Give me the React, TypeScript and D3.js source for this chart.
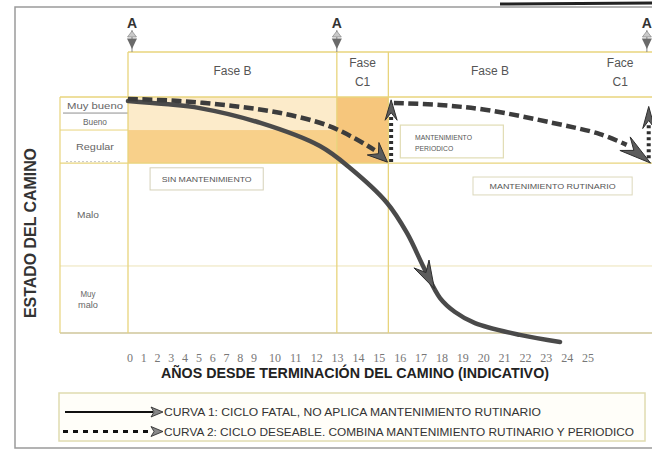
import React from 'react';
import * as d3 from 'd3';

// ---------- data ----------
const tickLabels = ['0','1','2','3','4','5','6','7','8','9','10','11','12','13','14','15','16','17','18','19','20','21','22','23','24','25'];
const tickYears = [0,1,2,3,4,5,6,7,8,9,10,11,12,13,14,15,16,17,18,19,20,21,22,23,24,25];

const stateLabels = [['Muy bueno'], ['Bueno'], ['Regular'], ['Malo'], ['Muy', 'malo']];
const stateBounds = [0, 6.8, 14, 28, 71.6, 100]; // deterioration index (0 = top)

const phaseLabels = [['Fase B'], ['Fase', 'C1'], ['Fase B'], ['Face', 'C1']];
const phaseStart = [0, 11.35, 14.15, 25.2];
const phaseEnd = [11.35, 14.15, 25.2, 28.3];
const phaseLines = [0, 11.35, 14.15];
const milestoneYears = [0, 11.35, 28.2];
const milestoneLabel = 'A';

// curve 1 : ciclo fatal (year, index)
const curve1: [number, number][] = [
  [0, 1.7], [2.0, 3.0], [3.9, 4.7], [7.2, 11.0], [10.43, 20.8], [12.07, 30.1], [14.08, 44.9],
  [15.16, 57.6], [16.14, 73.3], [16.96, 85.2], [17.77, 91.1], [18.86, 95.8], [21.3, 100.8], [23.48, 103.8],
];
const curve1Arrow: [number, number][] = [[16.0, 71.5], [16.65, 81.2]];

// curve 2 : ciclo deseable
const curve2a: [number, number][] = [
  [0, 0.8], [2.8, 1.7], [5.7, 3.8], [8.3, 6.8], [10.8, 11.9], [12.3, 17.4], [13.4, 22.5],
];
const curve2aArrow: [number, number][] = [[13.4, 22.5], [14.1, 27.6]];
const curve2Jump1: [number, number][] = [[14.3, 27.5], [14.3, 8]];
const curve2Jump1Arrow: [number, number][] = [[14.3, 9], [14.3, 1.2]];
const curve2b: [number, number][] = [
  [14.45, 2.5], [16.96, 3.4], [19.5, 5.5], [23.1, 11.0], [25.65, 15.7], [27.1, 20.3],
];
const curve2bArrow: [number, number][] = [[27.1, 20.3], [28.4, 28]];
const curve2Jump2: [number, number][] = [[28.3, 26], [28.3, 12]];
const curve2Jump2Arrow: [number, number][] = [[28.3, 12.5], [28.3, 4]];

const boxLabels = [['SIN MANTENIMIENTO'], ['MANTENIMIENTO', 'PERIODICO'], ['MANTENIMIENTO RUTINARIO']];
const legendLabels = [
  'CURVA 1: CICLO FATAL, NO APLICA MANTENIMIENTO RUTINARIO',
  'CURVA 2: CICLO DESEABLE. COMBINA MANTENIMIENTO RUTINARIO Y PERIODICO',
];
const yTitle = 'ESTADO DEL CAMINO';
const xTitle = 'AÑOS DESDE TERMINACIÓN DEL CAMINO (INDICATIVO)';

// ---------- layout ----------
const W = 652, H = 451;
const x = d3.scaleLinear().domain([0, 25]).range([128, 588]);
const y = d3.scaleLinear().domain([0, 100]).range([97, 333]);
const tickX = d3.scaleLinear().domain([0, 9, 25]).range([130, 254, 588]);
const labelColLeft = 60;
const headerTop = 52;
const gridColor = '#e8d47c';
const SANS = "'Liberation Sans', Arial, sans-serif";

const line = d3.line<[number, number]>().x(d => x(d[0])).y(d => y(d[1])).curve(d3.curveCatmullRom.alpha(0.5));

function arrowPts(pair: [number, number][], w = 16): string {
  const b = [x(pair[0][0]), y(pair[0][1])];
  const t = [x(pair[1][0]), y(pair[1][1])];
  const dx = t[0] - b[0], dy = t[1] - b[1];
  const L = Math.hypot(dx, dy);
  const ux = dx / L, uy = dy / L, nx = -uy, ny = ux;
  const left = [b[0] - ux * 2 + nx * w / 2, b[1] - uy * 2 + ny * w / 2];
  const right = [b[0] - ux * 2 - nx * w / 2, b[1] - uy * 2 - ny * w / 2];
  const notch = [b[0] + ux * L * 0.3, b[1] + uy * L * 0.3];
  return [t, left, notch, right].map(p => p.join(',')).join(' ');
}

export default function App() {
  const right = W + 5;
  return (
    <svg width={W} height={H} style={{ position: 'absolute', left: 0, top: 0, background: '#fff' }}>
      {/* outer frame */}
      <rect x={15} y={7} width={W} height={441} fill="#fff" stroke="#9a9a9a" strokeWidth={1.5} />
      <line x1={500} y1={4} x2={W} y2={3} stroke="#222" strokeWidth={3} />

      {/* fills */}
      <rect x={x(phaseStart[0])} y={y(stateBounds[0])} width={x(phaseEnd[0]) - x(phaseStart[0])}
        height={y(stateBounds[2]) - y(stateBounds[0])} fill="#fcebca" />
      <rect x={x(phaseStart[0])} y={y(stateBounds[2])} width={x(phaseEnd[0]) - x(phaseStart[0])}
        height={y(stateBounds[3]) - y(stateBounds[2])} fill="#f8d08a" />
      <rect x={x(phaseStart[1])} y={y(stateBounds[0])} width={x(phaseEnd[1]) - x(phaseStart[1])}
        height={y(stateBounds[3]) - y(stateBounds[0])} fill="#f6c67c" />

      {/* header */}
      <line x1={x(0)} y1={headerTop} x2={right} y2={headerTop} stroke={gridColor} strokeWidth={1.5} />
      {/* horizontal rows */}
      <line x1={labelColLeft} y1={y(0)} x2={right} y2={y(0)} stroke={gridColor} strokeWidth={1.5} />
      <line x1={labelColLeft + 3} y1={y(stateBounds[1])} x2={x(0)} y2={y(stateBounds[1])} stroke="#8f8f8f" strokeWidth={1} />
      <line x1={labelColLeft} y1={y(stateBounds[2])} x2={x(0)} y2={y(stateBounds[2])} stroke={gridColor} strokeWidth={1} />
      <line x1={labelColLeft} y1={y(stateBounds[3])} x2={right} y2={y(stateBounds[3])} stroke={gridColor} strokeWidth={1.2} />
      <line x1={labelColLeft + 6} y1={y(stateBounds[3]) - 1.5} x2={x(0) - 8} y2={y(stateBounds[3]) - 1.5} stroke="#b9b9b9" strokeWidth={0.8} strokeDasharray="2 2" />
      <line x1={labelColLeft} y1={y(stateBounds[4])} x2={right} y2={y(stateBounds[4])} stroke="#ece3b8" strokeWidth={1} />
      <line x1={labelColLeft} y1={y(stateBounds[5])} x2={right} y2={y(stateBounds[5])} stroke="#cfc69a" strokeWidth={1.4} />
      {/* vertical lines */}
      <line x1={labelColLeft} y1={y(0)} x2={labelColLeft} y2={y(100)} stroke={gridColor} strokeWidth={1.2} />
      {phaseLines.map((p, i) => (
        <line key={i} x1={x(p)} y1={headerTop} x2={x(p)} y2={y(100)} stroke={gridColor} strokeWidth={1.3} />
      ))}

      {/* state labels */}
      {stateLabels.map((lab, i) => {
        const cy = (y(stateBounds[i]) + y(stateBounds[i + 1])) / 2;
        const cx = i < 3 ? 95 : 88;
        const widths = [[56], [24], [38], [22], [15, 20]][i];
        return (
          <text key={i} fontFamily={SANS} fontSize={9.5} fill="#666" textAnchor="middle">
            {lab.map((t, j) => (
              <tspan key={j} x={cx} y={cy + 3.5 + (j - (lab.length - 1) / 2) * 11} textLength={widths[j]} lengthAdjust="spacingAndGlyphs">{t}</tspan>
            ))}
          </text>
        );
      })}

      {/* phase labels */}
      {phaseLabels.map((lab, i) => {
        const cx = x((phaseStart[i] + phaseEnd[i]) / 2);
        return (
          <text key={i} fontFamily={SANS} fontSize={12} fill="#555" textAnchor="middle">
            {lab.map((t, j) => (
              <tspan key={j} x={cx} y={lab.length === 1 ? 75 : 76 + (j - 0.5) * 19}>{t}</tspan>
            ))}
          </text>
        );
      })}

      {/* milestone markers A */}
      {milestoneYears.map((m, i) => {
        const cx = x(m) + (i === 0 ? 4 : 0);
        return (
          <g key={i}>
            <line x1={cx} y1={30} x2={cx} y2={headerTop} stroke="#888" strokeWidth={1} />
            <polygon points={`${cx - 4.5},37 ${cx + 4.5},37 ${cx},31`} fill="#c9c9c9" stroke="#777" strokeWidth={0.6} />
            <polygon points={`${cx - 5},38.5 ${cx + 5},38.5 ${cx},49`} fill="#6a6a6a" />
            <text x={cx} y={28} fontFamily={SANS} fontSize={14} fontWeight="bold" fill="#333" textAnchor="middle">{milestoneLabel}</text>
          </g>
        );
      })}

      {/* annotation boxes */}
      <g fontFamily={SANS} fill="#555">
        <rect x={x(1.2)} y={y(30)} width={x(7.35) - x(1.2)} height={y(39.4) - y(30)} fill="#fff" stroke="#d5d1b8" strokeWidth={1} />
        <text x={(x(1.2) + x(7.35)) / 2} y={y(36.2)} fontSize={7.5} textAnchor="middle" textLength={90} lengthAdjust="spacingAndGlyphs">{boxLabels[0][0]}</text>
        <rect x={x(14.8)} y={y(11.9)} width={x(20.4) - x(14.8)} height={y(25.8) - y(11.9)} fill="#fff" stroke="#e1dcb4" strokeWidth={1.2} />
        {boxLabels[1].map((t, j) => (
          <text key={j} x={x(15.6)} y={y(18.2) + j * 11} fontSize={6.8}>{t}</text>
        ))}
        <rect x={x(18.75)} y={y(33.9)} width={x(27.4) - x(18.75)} height={y(41.5) - y(33.9)} fill="#fff" stroke="#dcd8bb" strokeWidth={1} />
        <text x={(x(18.75) + x(27.4)) / 2} y={y(38.9)} fontSize={7.5} textAnchor="middle" textLength={126} lengthAdjust="spacingAndGlyphs">{boxLabels[2][0]}</text>
      </g>

      {/* curve 1 */}
      <path d={line(curve1) || ''} fill="none" stroke="#4a4a4a" strokeWidth={4.5} strokeLinecap="round" />
      <polygon points={arrowPts(curve1Arrow, 17)} fill="#5c5c5c" stroke="#2e2e2e" strokeWidth={1} />

      {/* curve 2 */}
      <path d={line(curve2a) || ''} fill="none" stroke="#3c3c3c" strokeWidth={4.5} strokeDasharray="10 4.5" />
      <polygon points={arrowPts(curve2aArrow, 17)} fill="#5c5c5c" stroke="#2e2e2e" strokeWidth={1} />
      <path d={line(curve2Jump1) || ''} fill="none" stroke="#2e2e2e" strokeWidth={4} strokeDasharray="3 3" />
      <polygon points={arrowPts(curve2Jump1Arrow, 12)} fill="#5c5c5c" stroke="#2e2e2e" strokeWidth={1} />
      <path d={line(curve2b) || ''} fill="none" stroke="#3c3c3c" strokeWidth={4.5} strokeDasharray="10 4.5" />
      <polygon points={arrowPts(curve2bArrow, 17)} fill="#5c5c5c" stroke="#2e2e2e" strokeWidth={1} />
      <path d={line(curve2Jump2) || ''} fill="none" stroke="#2e2e2e" strokeWidth={4} strokeDasharray="3 3" />
      <polygon points={arrowPts(curve2Jump2Arrow, 12)} fill="#5c5c5c" stroke="#2e2e2e" strokeWidth={1} />

      {/* tick labels */}
      {tickYears.map((t, i) => (
        <text key={i} x={tickX(t)} y={362} fontFamily="'Liberation Serif', serif" fontSize={12} fill="#777" textAnchor="middle">{tickLabels[i]}</text>
      ))}

      {/* axis titles */}
      <text x={355} y={378} fontFamily={SANS} fontSize={15} fontWeight="bold" fill="#222" textAnchor="middle" textLength={388} lengthAdjust="spacingAndGlyphs">{xTitle}</text>
      <text transform="translate(36,233) rotate(-90)" fontFamily={SANS} fontSize={17} fontWeight="bold" fill="#333" textAnchor="middle" textLength={170} lengthAdjust="spacingAndGlyphs">{yTitle}</text>

      {/* legend */}
      <rect x={59} y={393} width={586} height={48} fill="#fffef9" stroke="#e0dbb0" strokeWidth={1.5} />
      <line x1={65} y1={412} x2={153} y2={412} stroke="#111" strokeWidth={2} />
      <polygon points="163,412 151,407 154,412 151,417" fill="#888" stroke="#222" strokeWidth={0.8} />
      <line x1={63} y1={431.5} x2={150} y2={431.5} stroke="#111" strokeWidth={3} strokeDasharray="5 5" />
      <polygon points="163,431.5 151,426.5 154,431.5 151,436.5" fill="#888" stroke="#222" strokeWidth={0.8} />
      <text x={164} y={415.5} fontFamily={SANS} fontSize={10.5} fill="#333" textLength={377} lengthAdjust="spacingAndGlyphs">{legendLabels[0]}</text>
      <text x={164} y={435.5} fontFamily={SANS} fontSize={10.5} fill="#333" textLength={470} lengthAdjust="spacingAndGlyphs">{legendLabels[1]}</text>
    </svg>
  );
}
